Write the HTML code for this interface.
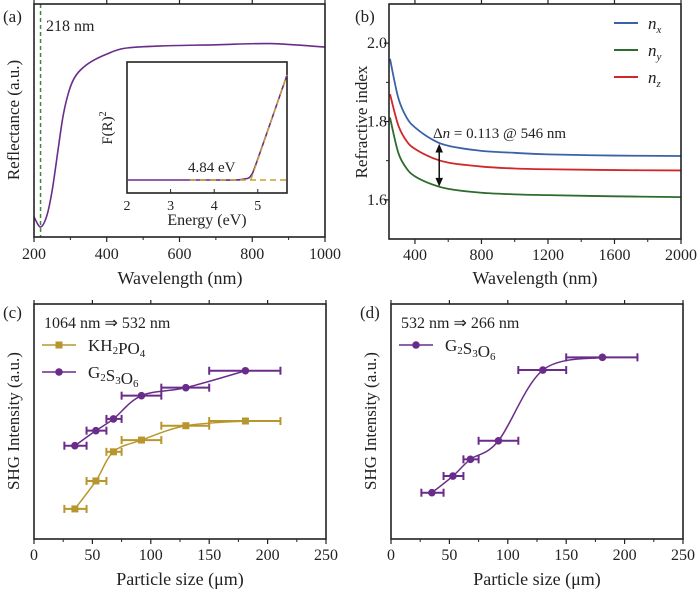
<!DOCTYPE html>
<html><head><meta charset="utf-8"><style>
html,body{margin:0;padding:0;background:#fff}
svg{display:block;font-family:"Liberation Serif",serif}
</style></head><body>
<svg id="fig" width="700" height="591" viewBox="0 0 700 591"></svg>
<script>
// Panel (a) reflectance
const aWave=[200,218,235,250,266,280,295,310,330,360,400,450,550,700,850,1000];
const aRefl=[0.086,0.043,0.09,0.2,0.373,0.52,0.62,0.68,0.72,0.755,0.785,0.81,0.82,0.825,0.83,0.815];
// inset
const insEnergy=[2,3,4,4.5,4.7,4.84,5.0,5.67];
const insF=[0.0,0.0,0.0,0.0,0.01,0.04,0.2,1.0];
// Panel (b)
const bWave=[250,300,350,400,500,600,800,1000,1200,1600,2000];
const nX=[1.96,1.86,1.81,1.785,1.755,1.738,1.725,1.72,1.716,1.713,1.712];
const nY=[1.81,1.72,1.68,1.66,1.64,1.628,1.618,1.614,1.612,1.609,1.607];
const nZ=[1.87,1.79,1.75,1.73,1.708,1.695,1.685,1.68,1.678,1.676,1.675];
// Panel (c),(d)
const sizes=[35,53,68,92,130,181];
const errLo=[26,45,62,75,109,150];
const errHi=[45,62,75,109,150,211];
const cG=[0.397,0.461,0.511,0.610,0.644,0.716];
const cK=[0.128,0.247,0.371,0.421,0.482,0.502];
const dG=[0.197,0.268,0.339,0.418,0.719,0.773];

const svg=document.getElementById('fig');
const NS='http://www.w3.org/2000/svg';
function el(tag,attrs,parent){const e=document.createElementNS(NS,tag);for(const k in attrs)e.setAttribute(k,attrs[k]);(parent||svg).appendChild(e);return e;}
function txt(s,x,y,size,anchor,parent,extra){const t=el('text',Object.assign({x:x,y:y,'font-size':size,'text-anchor':anchor||'start',fill:'#222'},extra||{}),parent);t.textContent=s;return t;}
function lin(d0,d1,r0,r1){return v=>r0+(v-d0)/(d1-d0)*(r1-r0);}
function smooth(pts){let d='M'+pts[0][0]+','+pts[0][1];for(let i=0;i<pts.length-1;i++){const p0=pts[i-1]||pts[i],p1=pts[i],p2=pts[i+1],p3=pts[i+2]||p2;const c1=[p1[0]+(p2[0]-p0[0])/6,p1[1]+(p2[1]-p0[1])/6],c2=[p2[0]-(p3[0]-p1[0])/6,p2[1]-(p3[1]-p1[1])/6];d+=' C'+c1+' '+c2+' '+p2;}return d;}
function frame(x0,y0,x1,y1,name){const r=el('rect',{x:x0,y:y0,width:x1-x0,height:y1-y0,fill:'none',stroke:'#222','stroke-width':1.6});}
function xticks(g,sx,vals,minor,y1,y0,fs,ly){vals.forEach(v=>{el('line',{x1:sx(v),x2:sx(v),y1:y1,y2:y1+5,stroke:'#222','stroke-width':1.2},g);el('line',{x1:sx(v),x2:sx(v),y1:y0,y2:y0-4,stroke:'#222','stroke-width':1.2},g);txt(String(v),sx(v),ly,fs,'middle',g);});minor.forEach(v=>{el('line',{x1:sx(v),x2:sx(v),y1:y1,y2:y1+3,stroke:'#222','stroke-width':1},g);});}

// ---------- Panel A ----------
const gA=el('g',{});
const ax=lin(200,1000,34,325), ay=lin(0,1,237,4);
frame(34,4,325,237,'panel-a-frame');
xticks(gA,ax,[200,400,600,800,1000],[300,500,700,900],237,4,16,259);
const dl=el('line',{x1:ax(218),x2:ax(218),y1:4,y2:237,stroke:'#3a8a3a','stroke-width':1.5,'stroke-dasharray':'4,3'},gA);
const pa=el('path',{d:smooth(aWave.map((w,i)=>[ax(w),ay(aRefl[i])])),fill:'none',stroke:'#6a2c8a','stroke-width':1.6},gA);
txt('(a)',3,22,17,'start',gA);txt('218 nm',46,31,16,'start',gA);
txt('Reflectance (a.u.)',0,0,17,'middle',gA,{transform:'translate(19,120) rotate(-90)'});
txt('Wavelength (nm)',180,284,18,'middle',gA);
// inset
const gI=el('g',{});
el('rect',{x:127,y:62,width:160,height:131,fill:'#fff',stroke:'#222','stroke-width':1.6},gI);
const ix=lin(2,5.67,127,287), iy=lin(0,1,180,75);
[2,3,4,5].forEach(v=>{el('line',{x1:ix(v),x2:ix(v),y1:193,y2:189,stroke:'#222'},gI);txt(String(v),ix(v),210,14,'middle',gI);});
el('path',{d:smooth(insEnergy.map((e,i)=>[ix(e),iy(insF[i])])),fill:'none',stroke:'#6a2c8a','stroke-width':1.6},gI);
el('line',{x1:190,x2:287,y1:iy(0),y2:iy(0),stroke:'#c9a02a','stroke-width':1.4,'stroke-dasharray':'6,4'},gI);
el('line',{x1:ix(4.84),x2:287,y1:iy(0),y2:iy(1),stroke:'#c9a02a','stroke-width':1.4,'stroke-dasharray':'6,4'},gI);
txt('4.84 eV',188,172,15,'start',gI);
txt('Energy (eV)',207,225,16,'middle',gI);
const fr=txt('F(R)',0,0,15,'middle',gI,{transform:'translate(112,128) rotate(-90)'});
const sup=el('tspan',{'font-size':10,dy:-6},fr);sup.textContent='2';

// ---------- Panel B ----------
const gB=el('g',{});
const bx=lin(244,2000,389,681), by=lin(1.5,2.1,239,4);
frame(389,4,681,239,'panel-b-frame');
xticks(gB,bx,[400,800,1200,1600,2000],[600,1000,1400,1800],239,4,16,260);
[1.6,1.8,2.0].forEach(v=>{el('line',{x1:389,x2:384,y1:by(v),y2:by(v),stroke:'#222','stroke-width':1.2},gB);txt(v.toFixed(1),387,by(v)+5,16,'end',gB);});
[1.7,1.9].forEach(v=>{el('line',{x1:389,x2:386,y1:by(v),y2:by(v),stroke:'#222'},gB);});
const series=[[nX,'#3a62a8','n-x-curve'],[nY,'#2e6b2e','n-y-curve'],[nZ,'#d0282a','n-z-curve']];
series.forEach(s=>{const p=el('path',{d:smooth(bWave.map((w,i)=>[bx(w),by(s[0][i])])),fill:'none',stroke:s[1],'stroke-width':1.8},gB);});
const axr=bx(546);
el('line',{x1:axr,x2:axr,y1:by(1.735),y2:by(1.642),stroke:'#111','stroke-width':1.5},gB);
el('path',{d:`M${axr-3},${by(1.735)+5} L${axr},${by(1.74)} L${axr+3},${by(1.735)+5}Z M${axr-3},${by(1.642)-5} L${axr},${by(1.637)} L${axr+3},${by(1.642)-5}Z`,fill:'#111',stroke:'#111'},gB);
const dn=txt('Δ',433,138,15,'start',gB);const ti=el('tspan',{'font-style':'italic'},dn);ti.textContent='n';const tr=el('tspan',{},dn);tr.textContent=' = 0.113 @ 546 nm';
txt('Refractive index',0,0,17,'middle',gB,{transform:'translate(367,122) rotate(-90)'});
txt('Wavelength (nm)',535,284,18,'middle',gB);
txt('(b)',355,22,17,'start',gB);
[['x','#3a62a8',23],['y','#2e6b2e',50],['z','#d0282a',77]].forEach(l=>{const g=el('g',{},gB);el('line',{x1:614,x2:638,y1:l[2],y2:l[2],stroke:l[1],'stroke-width':2},g);const t=txt('n',648,l[2]+6,17,'start',g,{'font-style':'italic'});const s=el('tspan',{'font-size':11,dy:4},t);s.textContent=l[0];});

// ---------- Panels C, D ----------
function shgPanel(x0,x1,series,title,label,name){
  const g=el('g',{});
  const sx=lin(0,250,x0,x1), sy=lin(0,1,539,304);
  frame(x0,304,x1,539,name+'-frame');
  xticks(g,sx,[0,50,100,150,200,250],[25,75,125,175,225],539,304,16,560);
  series.forEach(s=>{
    const sg=el('g',{},g);
    el('path',{d:smooth(sizes.map((v,i)=>[sx(v),sy(s.vals[i])])),fill:'none',stroke:s.color,'stroke-width':1.5},sg);
    sizes.forEach((v,i)=>{const y=sy(s.vals[i]);
      el('line',{x1:sx(errLo[i]),x2:sx(errHi[i]),y1:y,y2:y,stroke:s.color,'stroke-width':2},sg);
      el('line',{x1:sx(errLo[i]),x2:sx(errLo[i]),y1:y-4,y2:y+4,stroke:s.color,'stroke-width':2},sg);
      el('line',{x1:sx(errHi[i]),x2:sx(errHi[i]),y1:y-4,y2:y+4,stroke:s.color,'stroke-width':2},sg);
      if(s.square)el('rect',{x:sx(v)-3.5,y:y-3.5,width:7,height:7,fill:s.color},sg);else el('circle',{cx:sx(v),cy:y,r:3.8,fill:s.color},sg);
    });
  });
  txt(label,x0-31,318,17,'start',g);
  txt(title,x0+10,328,16,'start',g);
  txt('SHG Intensity (a.u.)',0,0,17,'middle',g,{transform:`translate(${x0-15},421) rotate(-90)`});
  txt('Particle size (μm)',(x0+x1)/2,585,18,'middle',g);
  return g;
}
const gC=shgPanel(34,326,[{vals:cK,color:'#b8962e',square:true,name:'kdp-series'},{vals:cG,color:'#6a2c8a',name:'g2s3o6-series-c'}],'1064 nm ⇒ 532 nm','(c)','panel-c-shg-1064');
function legend(g,x,y,color,square,main,subs,name){const lg=el('g',{},g);el('line',{x1:x,x2:x+34,y1:y,y2:y,stroke:color,'stroke-width':1.5},lg);if(square)el('rect',{x:x+13.5,y:y-3.5,width:7,height:7,fill:color},lg);else el('circle',{cx:x+17,cy:y,r:3.8,fill:color},lg);const t=txt('',x+46,y+6,17,'start',lg);main.forEach((m,i)=>{const a=el('tspan',{},t);a.textContent=m;if(subs[i]){const b=el('tspan',{'font-size':11,dy:3},t);b.textContent=subs[i];const c=el('tspan',{dy:-3},t);c.textContent='';}});}
legend(gC,42,345,'#b8962e',true,['KH','PO',''],['2','4',''],'legend-kdp');
legend(gC,42,372,'#6a2c8a',false,['G','S','O'],['2','3','6'],'legend-g2s3o6-c');
const gD=shgPanel(391,683,[{vals:dG,color:'#6a2c8a',name:'g2s3o6-series-d'}],'532 nm ⇒ 266 nm','(d)','panel-d-shg-532');
legend(gD,399,345,'#6a2c8a',false,['G','S','O'],['2','3','6'],'legend-g2s3o6-d');
</script>
</body></html>
